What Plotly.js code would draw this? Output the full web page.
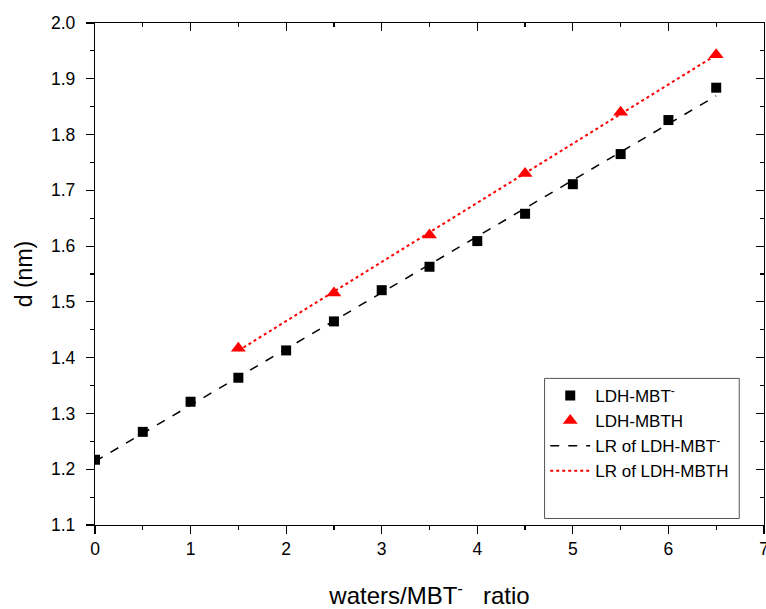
<!DOCTYPE html>
<html>
<head>
<meta charset="utf-8">
<script src="https://cdn.plot.ly/plotly-3.0.1.min.js"></script>
<style>html,body{margin:0;padding:0;background:#fff;}#chart{width:766px;height:609px;}</style>
</head>
<body>
<div id="chart"></div>
<script>
// Data
const xMBT = [0, 0.5, 1, 1.5, 2, 2.5, 3, 3.5, 4, 4.5, 5, 5.5, 6, 6.5];
const dMBT = [1.217, 1.267, 1.321, 1.364, 1.413, 1.465, 1.521, 1.563, 1.609, 1.658, 1.711, 1.765, 1.826, 1.884];
const xMBTH = [1.5, 2.5, 3.5, 4.5, 5.5, 6.5];
const dMBTH = [1.417, 1.516, 1.620, 1.730, 1.840, 1.943];
const xTicks = [0, 1, 2, 3, 4, 5, 6, 7];
const yTicks = [1.1, 1.2, 1.3, 1.4, 1.5, 1.6, 1.7, 1.8, 1.9, 2.0];

// Least-squares linear regression of the data (the "LR" lines)
function linreg(xs, ys) {
  const n = xs.length;
  const mx = xs.reduce((a, b) => a + b, 0) / n;
  const my = ys.reduce((a, b) => a + b, 0) / n;
  let sxy = 0, sxx = 0;
  for (let i = 0; i < n; i++) { sxy += (xs[i] - mx) * (ys[i] - my); sxx += (xs[i] - mx) ** 2; }
  const b = sxy / sxx, a = my - b * mx;
  const lx = [xs[0], xs[n - 1]];
  return { x: lx, y: lx.map(v => a + b * v) };
}
const lr1 = linreg(xMBT, dMBT);
const lr2 = linreg(xMBTH, dMBTH);

const font = { family: 'Arial, "Liberation Sans", sans-serif', color: '#000' };

const traces = [
  { x: xMBT, y: dMBT, mode: 'markers', type: 'scatter', name: 'LDH-MBT<sup>-</sup>',
    marker: { symbol: 'square', size: 10, color: '#000' } },
  { x: xMBTH, y: dMBTH, mode: 'markers', type: 'scatter', name: 'LDH-MBTH',
    marker: { symbol: 'triangle-up', size: 13, color: '#ff0000' } },
  { x: lr1.x, y: lr1.y, mode: 'lines', type: 'scatter', name: 'LR of LDH-MBT<sup>-</sup>',
    line: { color: '#000', dash: 'dash', width: 1.5 } },
  { x: lr2.x, y: lr2.y, mode: 'lines', type: 'scatter', name: 'LR of LDH-MBTH',
    line: { color: '#ff0000', dash: 'dot', width: 2 } },
  // empty trace so the mirrored top/right frame axes are drawn
  { x: [], y: [], xaxis: 'x2', yaxis: 'y2', type: 'scatter', mode: 'markers', showlegend: false, hoverinfo: 'skip' }
];

const mirrorAxis = (range, vals, dt) => ({
  range: range, tickvals: vals, showticklabels: false,
  ticks: 'inside', ticklen: 8, tickwidth: 1.2, tickcolor: '#000',
  minor: { dtick: dt, ticks: 'inside', ticklen: 4, tickwidth: 1.2, tickcolor: '#000' },
  showline: true, linecolor: '#000', linewidth: 1.2, showgrid: false, zeroline: false
});

const layout = {
  width: 766, height: 609,
  margin: { l: 94.5, r: 2, t: 23, b: 84 },
  paper_bgcolor: '#fff', plot_bgcolor: 'rgba(0,0,0,0)',
  showlegend: true,
  font: Object.assign({ size: 17 }, font),
  xaxis: {
    range: [0, 7], tickvals: xTicks, ticktext: xTicks.map(String),
    ticks: 'outside', ticklen: 8, tickwidth: 1.2, tickcolor: '#000',
    minor: { dtick: 0.5, ticks: 'outside', ticklen: 4, tickwidth: 1.2, tickcolor: '#000' },
    showline: true, linecolor: '#000', linewidth: 1.2, showgrid: false, zeroline: false,
    ticklabeloverflow: 'allow',
    tickfont: Object.assign({ size: 17.5 }, font),
    title: { text: 'waters/MBT<sup>-</sup>\u00a0\u00a0\u00a0ratio', font: Object.assign({ size: 24 }, font), standoff: 32 }
  },
  yaxis: {
    range: [1.1, 2.0], tickvals: yTicks, ticktext: yTicks.map(v => v.toFixed(1)),
    ticks: 'outside', ticklen: 8, tickwidth: 1.2, tickcolor: '#000',
    minor: { dtick: 0.05, ticks: 'outside', ticklen: 4, tickwidth: 1.2, tickcolor: '#000' },
    showline: true, linecolor: '#000', linewidth: 1.2, showgrid: false, zeroline: false,
    ticklabelstandoff: 7,
    tickfont: Object.assign({ size: 17.5 }, font),
    title: { text: 'd (nm)', font: Object.assign({ size: 23 }, font), standoff: 12 }
  },
  xaxis2: Object.assign(mirrorAxis([0, 7], xTicks, 0.5), { overlaying: 'x', side: 'top', anchor: 'y2' }),
  yaxis2: Object.assign(mirrorAxis([1.1, 2.0], yTicks, 0.05), { overlaying: 'y', side: 'right', anchor: 'x2' }),
  legend: {
    x: 0.673, y: 0.293, xanchor: 'left', yanchor: 'top',
    bgcolor: 'rgba(0,0,0,0)', borderwidth: 0,
    font: Object.assign({ size: 17 }, font),
    itemwidth: 40, tracegroupgap: 0
  },
  shapes: [
    { type: 'rect', xref: 'paper', yref: 'paper', x0: 0.672, x1: 0.963, y0: 0.013, y1: 0.292,
      line: { color: '#555', width: 1 }, fillcolor: 'rgba(255,255,255,0)', layer: 'below' }
  ]
};

Plotly.newPlot('chart', traces, layout, { displayModeBar: false, staticPlot: true });
</script>
</body>
</html>
